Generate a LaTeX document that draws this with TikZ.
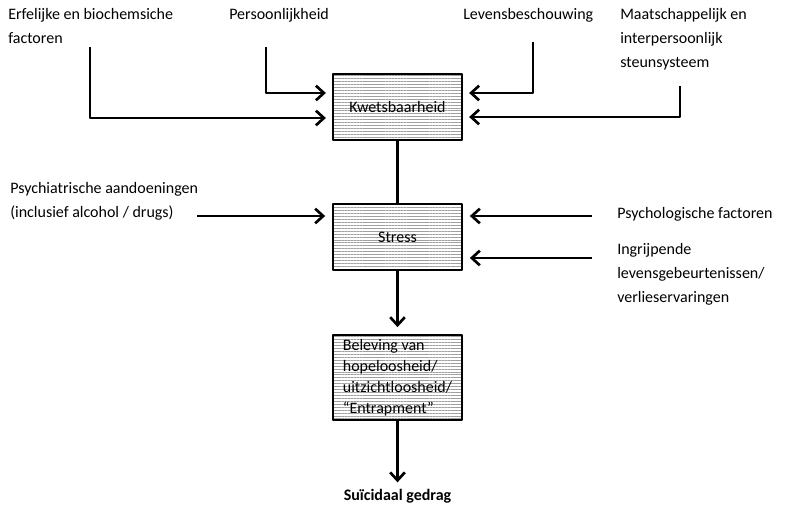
\documentclass[tikz,border=0pt]{standalone}
\usepackage{fontspec}
\setmainfont{Carlito}
\usetikzlibrary{arrows.meta,patterns.meta}
\tikzset{
  blok/.style={draw, line width=1.8pt, minimum width=96.75pt, minimum height=49.5pt, inner sep=2pt,
    pattern={Lines[distance=2.2pt,line width=0.7pt]}, pattern color=gray!75, align=left,
    font=\fontsize{12}{15.75}\selectfont},
  pijl/.style={line width=2pt, -{Straight Barb[length=6pt,width=11pt,line width=2pt]}, shorten >=5pt},
  lijn/.style={line width=2pt},
  lbl/.style={anchor=north west, inner sep=0pt, align=left, font=\fontsize{12}{18}\selectfont}
}
\begin{document}
\begin{tikzpicture}[x=0.75pt,y=-0.75pt,line join=round]
\useasboundingbox (0,0) rectangle (787,504);
% blokken
\node[blok] (kw) at (397.5,107) {Kwetsbaarheid};
\node[blok] (st) at (397.5,237) {Stress};
\node[blok, minimum height=63.75pt] (bel) at (397.5,377.5) {Beleving van\\hopeloosheid/\\uitzichtloosheid/\\“Entrapment”};
\node[anchor=north, inner sep=0pt, font=\fontsize{12}{14}\bfseries] (suic) at (397.5,489) {Suïcidaal gedrag};
% teksten
\node[lbl] (erf) at (8,8) {Erfelijke en biochemsiche\\factoren};
\node[lbl] (pers) at (229,8) {Persoonlijkheid};
\node[lbl] (lev) at (463,8) {Levensbeschouwing};
\node[lbl] (maat) at (620,8) {Maatschappelijk en\\interpersoonlijk\\steunsysteem};
\node[lbl] (psy) at (10,182) {Psychiatrische aandoeningen\\(inclusief alcohol / drugs)};
\node[lbl] (pf) at (617,207) {Psychologische factoren};
\node[lbl] (ingr) at (617,243) {Ingrijpende\\levensgebeurtenissen/\\verlieservaringen};
\coordinate (erf0) at (90,47); \coordinate (erf1) at (90,118);
\coordinate (pers0) at (266,47); \coordinate (pers1) at (266,93);
\coordinate (lev0) at (533,42); \coordinate (lev1) at (533,93);
\coordinate (maat0) at (680,86); \coordinate (maat1) at (680,117);
\coordinate (psy0) at (197,216);
\coordinate (pf0) at (592,216); \coordinate (ing0) at (592,258);
% pijlen
\draw[pijl] (erf0)--(erf1)--(erf1 -| kw.west);
\draw[pijl] (pers0)--(pers1)--(pers1 -| kw.west);
\draw[pijl] (lev0)--(lev1)--(lev1 -| kw.east);
\draw[pijl] (maat0)--(maat1)--(maat1 -| kw.east);
\draw[pijl] (psy0)--(psy0 -| st.west);
\draw[pijl] (pf0)--(pf0 -| st.east);
\draw[pijl] (ing0)--(ing0 -| st.east);
\draw[lijn] (kw.south)--(st.north);
\draw[pijl] (st.south)--(bel.north);
\draw[pijl] (bel.south)--(suic.north);
\end{tikzpicture}
\end{document}
